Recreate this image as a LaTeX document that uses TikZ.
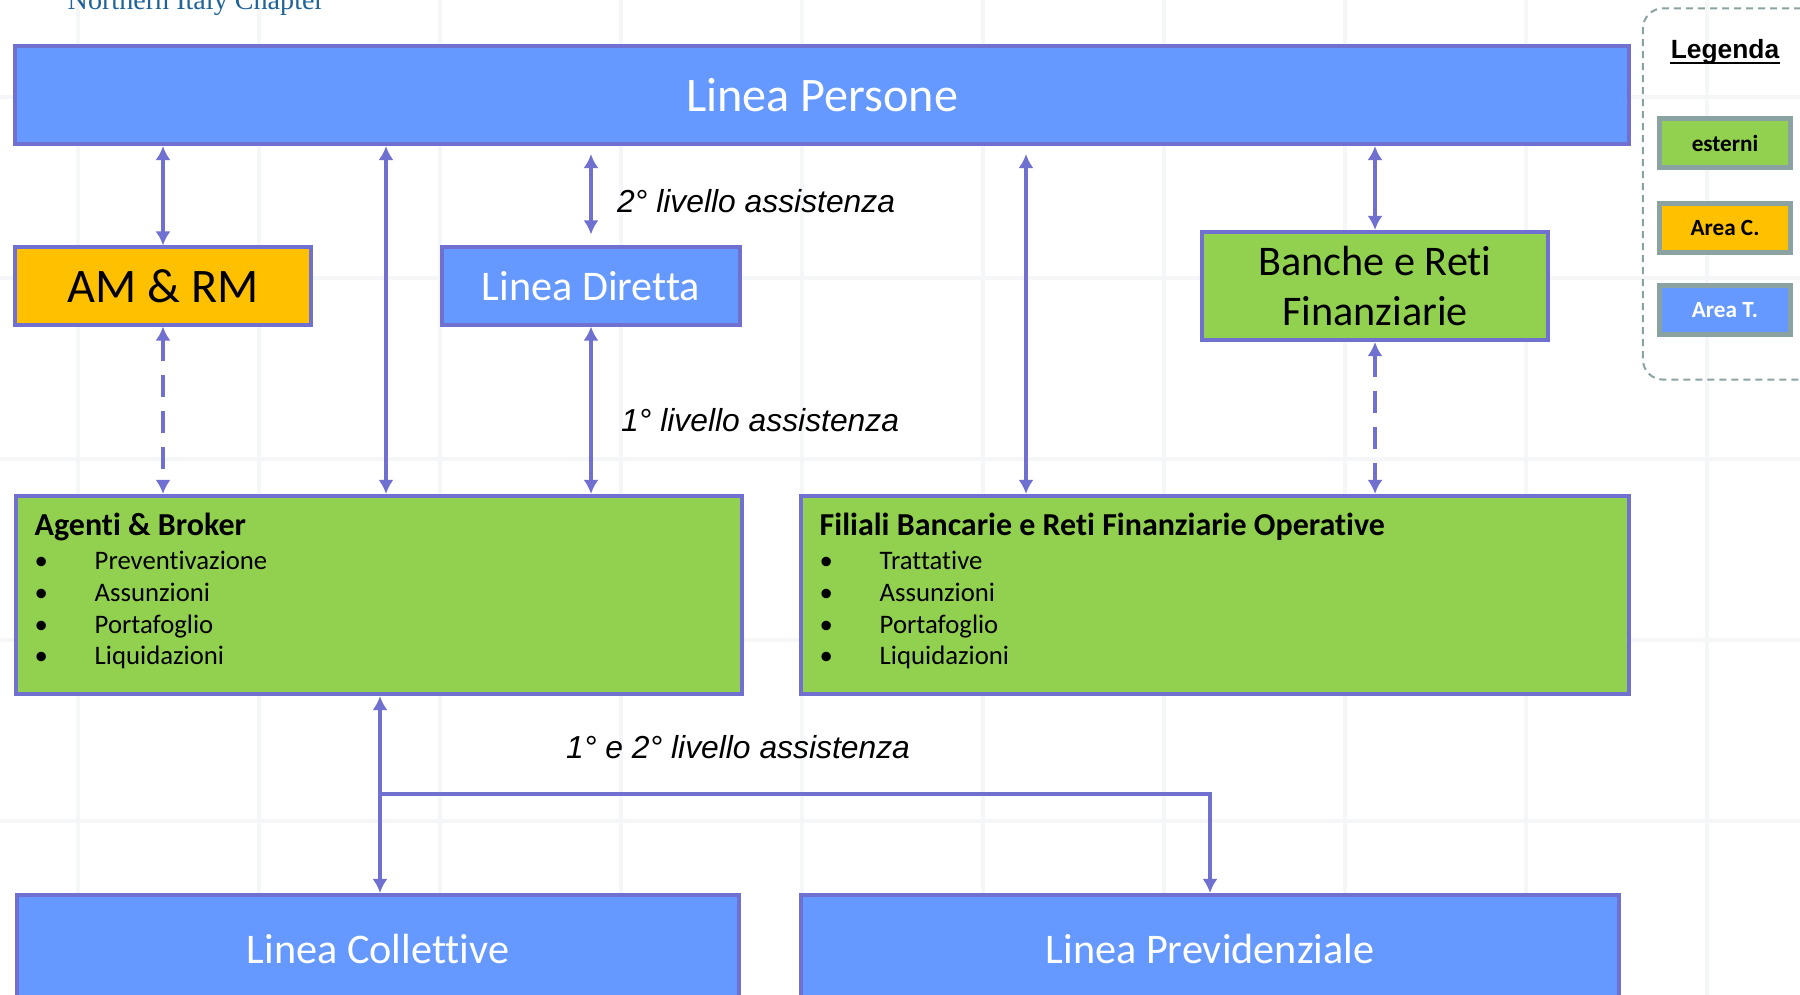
\documentclass[tikz,border=0pt]{standalone}
\usepackage{fontspec}
\setmainfont{Carlito}[Ligatures=NoCommon]
\newfontfamily\arialfont{Liberation Sans}
\newfontfamily\chapfont{Liberation Serif}
\usetikzlibrary{arrows.meta}

\definecolor{tblu}{HTML}{6699FF}
\definecolor{tbord}{HTML}{7070D0}
\definecolor{tgreen}{HTML}{92D050}
\definecolor{torange}{HTML}{FFC000}
\definecolor{lgray}{HTML}{8AA2A2}
\definecolor{chap}{HTML}{1F6399}
\definecolor{gridc}{HTML}{F5F6F7}

\begin{document}
\begin{tikzpicture}[x=0.01cm,y=-0.01cm]
      \tikzstyle{box}=[rectangle,draw=tbord,line width=0.04cm,inner sep=0pt]
      \tikzstyle{area}=[box,fill=tblu,text=white]
      \tikzstyle{ext}=[box,fill=tgreen]
      \tikzstyle{big}=[font=\fontsize{13.7}{16}\selectfont]
      \tikzstyle{mid}=[font=\fontsize{12}{14.2}\selectfont]
      \tikzstyle{list}=[anchor=north west,inner sep=0pt,align=left,
        font=\fontsize{7.6}{9}\selectfont]
      \tikzstyle{lab}=[inner sep=0pt,font=\arialfont\itshape\fontsize{9.05}{10}\selectfont]
      \tikzstyle{leg}=[rectangle,draw=lgray,line width=0.05cm,minimum width=1.3cm,
        minimum height=0.48cm,font=\bfseries\fontsize{6.6}{8}\selectfont]

      \useasboundingbox (0,0) rectangle (1800,995);
      \clip (0,0) rectangle (1800,995);

      % faint grid of the slide background
      \foreach \gx in {78,259,...,1707} \draw[gridc,line width=0.035cm] (\gx,0) -- (\gx,995);
      \foreach \gy in {97,278,...,821} \draw[gridc,line width=0.035cm] (0,\gy) -- (1800,\gy);

      \node[anchor=base west,inner sep=0pt,text=chap,font=\chapfont\fontsize{8}{9}\selectfont]
        (NC) at (67,10) {Northern Italy Chapter};

      \node[area,big,minimum width=16.13cm,minimum height=0.98cm] (P)  at (822,95)  {Linea Persone};
      \node[box,big,fill=torange,minimum width=2.95cm,minimum height=0.77cm] (AM) at (163,286) {AM \& RM};
      \node[area,mid,minimum width=2.97cm,minimum height=0.77cm] (LD) at (591,286) {Linea Diretta};
      \node[ext,mid,align=center,minimum width=3.45cm,minimum height=1.08cm] (BR) at (1375,286)
        {Banche e Reti\\Finanziarie};

      \node[ext,minimum width=7.26cm,minimum height=1.98cm] (AB) at (379,595)  {};
      \node[ext,minimum width=8.28cm,minimum height=1.98cm] (FB) at (1215,595) {};

      \node[area,mid,minimum width=7.21cm,minimum height=1.08cm] (LC) at (378,949)  {Linea Collettive};
      \node[area,mid,minimum width=8.18cm,minimum height=1.08cm] (LP) at (1210,949) {Linea Previdenziale};

      \node[list] (ABt) at (34,512) {{\bfseries\fontsize{9.1}{9}\selectfont Agenti \& Broker}\\[0.9pt]
        \makebox[0.6cm][l]{\textbullet}Preventivazione\\
        \makebox[0.6cm][l]{\textbullet}Assunzioni\\
        \makebox[0.6cm][l]{\textbullet}Portafoglio\\
        \makebox[0.6cm][l]{\textbullet}Liquidazioni};
      \node[list] (FBt) at (819,512) {{\bfseries\fontsize{9.1}{9}\selectfont Filiali Bancarie e Reti Finanziarie Operative}\\[0.9pt]
        \makebox[0.6cm][l]{\textbullet}Trattative\\
        \makebox[0.6cm][l]{\textbullet}Assunzioni\\
        \makebox[0.6cm][l]{\textbullet}Portafoglio\\
        \makebox[0.6cm][l]{\textbullet}Liquidazioni};

      % legend
      \node[rectangle,draw=lgray,line width=0.02cm,dash pattern=on 0.07cm off 0.05cm,
        rounded corners=0.2cm,minimum width=1.9cm,minimum height=3.71cm] (LG) at (1738,194) {};
      \node[inner sep=0pt,font=\arialfont\bfseries\fontsize{7.5}{9}\selectfont] (LGt) at (1725,52)
        {Legenda};
      \draw[line width=0.7pt] ([yshift=-1.2pt]LGt.base west) -- ([yshift=-1.2pt]LGt.base east);
      \node[leg,fill=tgreen]            (L1) at (1725,143) {esterni};
      \node[leg,fill=torange]           (L2) at (1725,228) {Area C.};
      \node[leg,fill=tblu,text=white]   (L3) at (1725,310) {Area T.};

      \tikzstyle{ar}=[<->,>={Latex[length=1.4mm,width=1.5mm]},line width=1.15pt,draw=tbord]
      \tikzstyle{ds}=[ar,dash pattern=on 2.2mm off 1.4mm]
      \tikzstyle{one}=[->,>={Latex[length=1.4mm,width=1.5mm]},line width=1.15pt,draw=tbord]

      \draw[ar] (AM.north) -- (AM.north |- P.south);
      \draw[ds] (AM.south) -- (AM.south |- AB.north);
      \draw[ar] (P.south -| 386,0) -- (AB.north -| 386,0);
      \draw[ar,shorten <=0.08cm,shorten >=0.11cm] (P.south -| LD.north) -- (LD.north)
      node[midway,anchor=west,xshift=0.24cm,yshift=-0.05cm,lab] {2° livello assistenza};
      \draw[ar] (LD.south) -- (LD.south |- AB.north)
      node[midway,anchor=west,xshift=0.28cm,yshift=-0.1cm,lab] {1° livello assistenza};
      \draw[ar,shorten <=0.08cm] (P.south -| 1026,0) -- (FB.north -| 1026,0);
      \draw[ar] (BR.north) -- (BR.north |- P.south);
      \draw[ds] (BR.south) -- (BR.south |- FB.north);

      \coordinate (J) at (380,794);
      \draw[ar] (AB.south -| J) -- (LC.north -| J);
      \draw[one] (J) -| (LP.north);
      \node[lab] (LB) at (738,747) {1° e 2° livello assistenza};
\end{tikzpicture}
\end{document}
